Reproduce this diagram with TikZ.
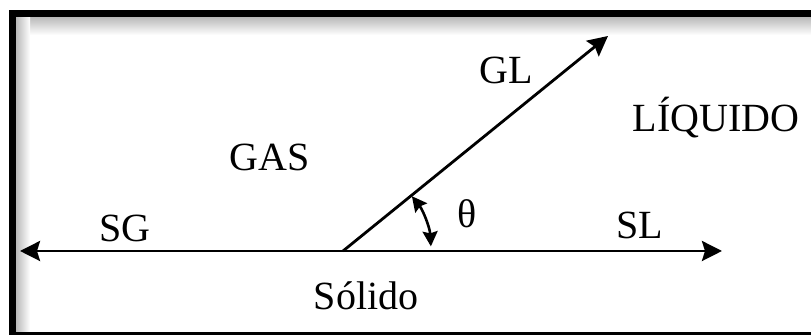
\documentclass[tikz,border=0pt]{standalone}
\usepackage{fontspec}
\setmainfont{Liberation Serif}
\usetikzlibrary{positioning, arrows.meta}
\tikzset{
  lbl/.style={font=\fontsize{20}{22}\selectfont, inner sep=0pt},
  axis/.style={line width=1.4pt, black},
  bigtip/.style={-{Stealth[length=10pt,width=10pt,inset=1.5pt]}},
  angtip/.style={{Stealth[length=7.5pt,width=7.5pt,inset=1pt]}-{Stealth[length=7.5pt,width=7.5pt,inset=1pt]}, line width=1.3pt},
  frame/.style={line width=3.6pt, black},
}
\begin{document}
\begin{tikzpicture}[x=0.5pt, y=0.5pt]
  \useasboundingbox (0,0) rectangle (811,335);
  \clip (0,0) rectangle (811,335);
  % inner shadow of the frame
  \shade[top color=gray!55, bottom color=white] (16,300) rectangle (811,318);
  \shade[left color=gray!55, right color=white] (16,0) rectangle (30,318);
  \draw[frame] (12.5,-0.5) rectangle (840,321.5);
  % points
  \coordinate (O) at (343,84);
  \coordinate (Lt) at (20,84);
  \coordinate (Rt) at (722,84);
  \coordinate (Gt) at (608,299);
  % lines
  \draw[axis, bigtip] (O) -- (Lt);
  \draw[axis, bigtip] (O) -- (Rt);
  \draw[axis, bigtip] (O) -- (Gt);
  \draw[angtip] ([shift={(38.5:44pt)}]O) arc[start angle=38.5, end angle=3, radius=44pt];
  % labels
  \node[lbl] (sg) at (125,107) {SG};
  \node[lbl] (gas) at (270,178) {GAS};
  \node[lbl] (gl) at (506,265) {GL};
  \node[lbl] (liq) at (716,217) {LÍQUIDO};
  \node[lbl] (th) at (467,121) {θ};
  \node[lbl] (sl) at (640,110) {SL};
  \node[lbl] (sol) at (366,39) {Sólido};
\end{tikzpicture}
\end{document}
